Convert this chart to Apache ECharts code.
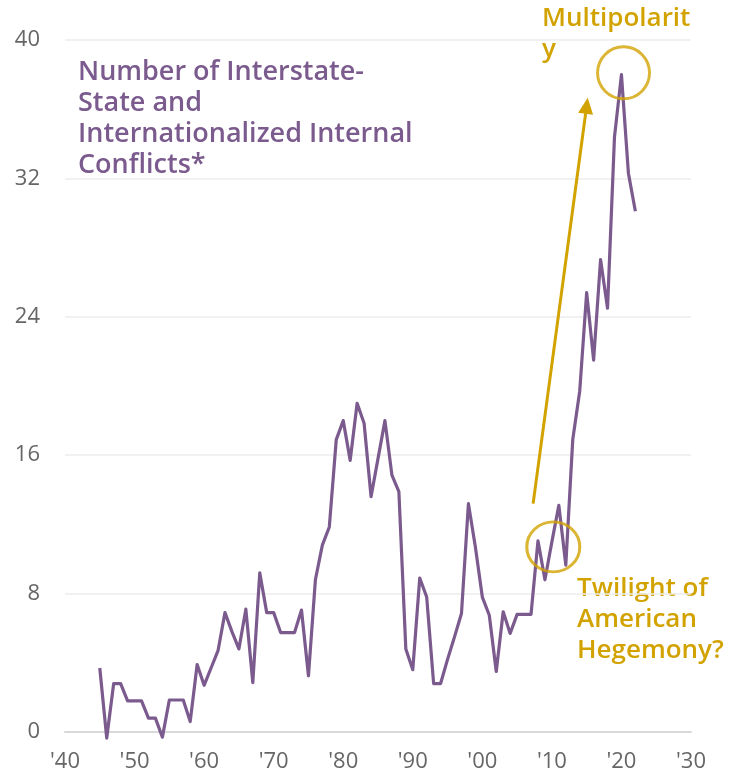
<!DOCTYPE html>
<html>
<head>
<meta charset="utf-8">
<script src="https://cdn.jsdelivr.net/npm/echarts@6/dist/echarts.min.js"></script>
<style>
  html, body { margin: 0; padding: 0; background: #ffffff; }
  #chart { width: 736px; height: 776px; }
</style>
</head>
<body>
<div id="chart"></div>
<script>
// Yearly count of interstate and internationalized internal conflicts
const years = [
  1945, 1946, 1947, 1948, 1949, 1950, 1951, 1952, 1953, 1954,
  1955, 1956, 1957, 1958, 1959, 1960, 1961, 1962, 1963, 1964,
  1965, 1966, 1967, 1968, 1969, 1970, 1971, 1972, 1973, 1974,
  1975, 1976, 1977, 1978, 1979, 1980, 1981, 1982, 1983, 1984,
  1985, 1986, 1987, 1988, 1989, 1990, 1991, 1992, 1993, 1994,
  1995, 1996, 1997, 1998, 1999, 2000, 2001, 2002, 2003, 2004,
  2005, 2006, 2007, 2008, 2009, 2010, 2011, 2012, 2013, 2014,
  2015, 2016, 2017, 2018, 2019, 2020, 2021, 2022
];
const conflicts = [
  3.7, -0.35, 2.8, 2.8, 1.8, 1.8, 1.8, 0.8, 0.8, -0.3,
  1.85, 1.85, 1.85, 0.6, 3.9, 2.7, 3.7, 4.7, 6.9, 5.8,
  4.8, 7.1, 2.85, 9.2, 6.9, 6.9, 5.75, 5.75, 5.75, 7.05,
  3.25, 8.8, 10.8, 11.85, 16.9, 18.0, 15.7, 19.0, 17.85, 13.6,
  15.8, 18.0, 14.85, 13.9, 4.8, 3.6, 8.9, 7.8, 2.8, 2.8,
  4.2, 5.5, 6.85, 13.2, 10.7, 7.8, 6.75, 3.5, 6.95, 5.7,
  6.8, 6.8, 6.8, 11.05, 8.8, 11.0, 13.1, 9.65, 16.9, 19.7,
  25.4, 21.5, 27.3, 24.5, 34.4, 38.0, 32.3, 30.1
];

// Axis ticks
const xTicks = [1940, 1950, 1960, 1970, 1980, 1990, 2000, 2010, 2020, 2030];
const yTicks = [0, 8, 16, 24, 32, 40];

// Highlighted moments and the trend arrow between them
const twilightPoint = [2010.2, 10.7];
const peakPoint = [2020.3, 38.1];
const arrowFrom = [2007.3, 13.2];
const arrowTo = [2015.0, 36.2];

const PURPLE = '#7b5a8e';
const GOLD = '#d2a300';
const FONT = '"Open Sans", "Noto Sans", sans-serif';

const chart = echarts.init(document.getElementById('chart'), null, { renderer: 'canvas' });

chart.setOption({
  animation: false,
  backgroundColor: '#ffffff',
  grid: { left: 65, right: 45, top: 40, bottom: 44, containLabel: false },
  xAxis: {
    type: 'value',
    min: xTicks[0],
    max: xTicks[xTicks.length - 1],
    interval: 10,
    axisLine: { show: true, lineStyle: { color: '#d9d9d9', width: 2 } },
    axisTick: { show: false },
    splitLine: { show: false },
    axisLabel: {
      color: '#666666',
      fontFamily: FONT,
      fontSize: 22,
      margin: 19,
      formatter: v => "'" + String(v).slice(2)
    }
  },
  yAxis: {
    type: 'value',
    min: yTicks[0],
    max: yTicks[yTicks.length - 1],
    interval: 8,
    axisLine: { show: false },
    axisTick: { show: false },
    splitLine: { show: true, lineStyle: { color: '#ededed', width: 1.5 } },
    axisLabel: {
      color: '#666666',
      fontFamily: FONT,
      fontSize: 22,
      margin: 25
    }
  },
  series: [
    {
      name: 'Conflicts',
      type: 'line',
      data: years.map((y, i) => [y, conflicts[i]]),
      showSymbol: false,
      clip: false,
      lineStyle: { color: PURPLE, width: 3.2, join: 'round' },
      z: 3,
      markLine: {
        silent: true,
        symbol: ['none', 'triangle'],
        symbolSize: [15, 16],
        label: { show: false },
        lineStyle: { color: GOLD, width: 3, type: 'solid' },
        data: [[{ coord: arrowFrom }, { coord: arrowTo }]]
      }
    },
    {
      name: 'Twilight',
      type: 'scatter',
      data: [twilightPoint],
      symbol: 'circle',
      symbolSize: [53, 50],
      itemStyle: { color: 'rgba(0,0,0,0)', borderColor: GOLD, borderWidth: 3 },
      z: 4
    },
    {
      name: 'Peak',
      type: 'scatter',
      data: [peakPoint],
      symbol: 'circle',
      symbolSize: [52, 52],
      itemStyle: { color: 'rgba(0,0,0,0)', borderColor: GOLD, borderWidth: 3 },
      z: 4
    }
  ],
  graphic: [
    {
      type: 'text',
      left: 78,
      top: 57,
      style: {
        text: 'Number of Interstate-\nState and\nInternationalized Internal\nConflicts*',
        fill: PURPLE,
        font: '600 27px ' + FONT,
        lineHeight: 31
      }
    },
    {
      type: 'text',
      left: 542,
      top: 3,
      style: {
        text: 'Multipolarit\ny',
        fill: GOLD,
        font: '600 26px ' + FONT,
        lineHeight: 31
      }
    },
    {
      type: 'text',
      left: 577,
      top: 573,
      style: {
        text: 'Twilight of\nAmerican\nHegemony?',
        fill: GOLD,
        font: '600 26px ' + FONT,
        lineHeight: 31
      }
    }
  ]
});
</script>
</body>
</html>
